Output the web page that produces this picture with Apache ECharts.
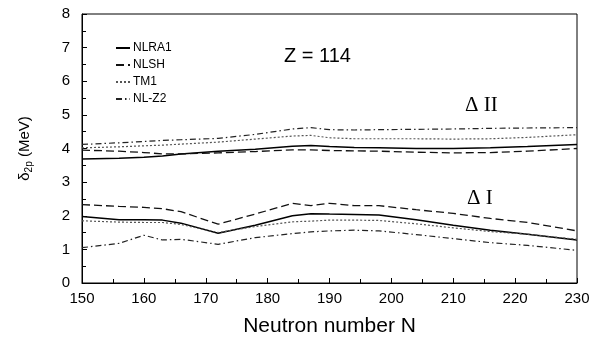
<!DOCTYPE html>
<html>
<head>
<meta charset="utf-8">
<script src="https://cdn.jsdelivr.net/npm/echarts@6/dist/echarts.min.js"></script>
<style>
  html, body { margin: 0; padding: 0; background: #fff; }
  #main { width: 615px; height: 347px; }
</style>
</head>
<body>
<div id="main"></div>
<script>
// neutron numbers where curves were read
const nValues = [150, 156, 160, 163, 166, 172, 178, 184, 187, 190, 194, 198, 204, 210, 216, 222, 230];

// Delta II (upper group)
const nlra1Upper = [3.69, 3.71, 3.74, 3.78, 3.84, 3.92, 3.98, 4.07, 4.09, 4.06, 4.03, 4.02, 4.00, 4.00, 4.02, 4.06, 4.12];
const nlshUpper  = [3.95, 3.92, 3.88, 3.84, 3.84, 3.87, 3.91, 3.96, 3.96, 3.94, 3.93, 3.92, 3.89, 3.87, 3.88, 3.92, 4.00];
const tm1Upper   = [4.02, 4.05, 4.08, 4.10, 4.13, 4.19, 4.28, 4.37, 4.39, 4.32, 4.29, 4.29, 4.29, 4.28, 4.29, 4.33, 4.41];
const nlz2Upper  = [4.12, 4.17, 4.21, 4.24, 4.26, 4.30, 4.42, 4.58, 4.62, 4.56, 4.55, 4.56, 4.57, 4.58, 4.60, 4.61, 4.62];

// Delta I (lower group)
const nlra1Lower = [1.98, 1.88, 1.88, 1.87, 1.78, 1.48, 1.72, 2.00, 2.06, 2.05, 2.04, 2.02, 1.88, 1.72, 1.57, 1.45, 1.28];
const nlshLower  = [2.33, 2.28, 2.25, 2.21, 2.12, 1.75, 2.05, 2.37, 2.30, 2.37, 2.30, 2.30, 2.18, 2.07, 1.92, 1.80, 1.55];
const tm1Lower   = [1.85, 1.81, 1.80, 1.80, 1.74, 1.50, 1.68, 1.82, 1.84, 1.87, 1.87, 1.86, 1.76, 1.64, 1.53, 1.45, 1.30];
const nlz2Lower  = [1.05, 1.18, 1.42, 1.28, 1.30, 1.15, 1.35, 1.47, 1.52, 1.55, 1.57, 1.55, 1.44, 1.32, 1.20, 1.12, 0.97];

const seriesNames = ['NLRA1', 'NLSH', 'TM1', 'NL-Z2'];
const xTicks = [150, 160, 170, 180, 190, 200, 210, 220, 230];
const yTicks = [0, 1, 2, 3, 4, 5, 6, 7, 8];

const styles = {
  'NLRA1': { color: '#000', width: 1.5, type: 'solid' },
  'NLSH':  { color: '#111', width: 1.3, type: [8, 4] },
  'TM1':   { color: '#555', width: 1.2, type: [2, 2] },
  'NL-Z2': { color: '#222', width: 1.2, type: [6, 3, 1.5, 3] }
};

function pairs(ys) {
  return nValues.map((n, i) => [n, ys[i]]);
}

function makeSeries(name, ys) {
  return {
    name: name,
    type: 'line',
    data: pairs(ys),
    symbol: 'none',
    color: styles[name].color,
    lineStyle: styles[name],
    silent: true,
    animation: false
  };
}

const myChart = echarts.init(document.getElementById('main'));

const font = 'Liberation Sans, Arial, sans-serif';

const option = {
  backgroundColor: '#fff',
  grid: {
    left: 82, right: 38, top: 14, bottom: 64,
    show: true, borderColor: '#000', borderWidth: 1
  },
  legend: {
    data: seriesNames,
    orient: 'vertical',
    left: 110,
    top: 37,
    itemWidth: 14,
    itemHeight: 8,
    itemGap: 5,
    itemStyle: { opacity: 0 },
    textStyle: { fontFamily: font, fontSize: 12, color: '#000', padding: [0, 0, 0, -2] },
    selectedMode: false
  },
  xAxis: {
    type: 'value',
    min: xTicks[0], max: xTicks[xTicks.length - 1], interval: 10,
    axisLine: { lineStyle: { color: '#000' } },
    axisTick: { inside: true, length: 5, lineStyle: { color: '#000' } },
    minorTick: { show: true, splitNumber: 2, length: 4, lineStyle: { color: '#000' } },
    splitLine: { show: false },
    axisLabel: { color: '#000', fontFamily: font, fontSize: 15, margin: 8 },
    name: 'Neutron number N',
    nameLocation: 'middle',
    nameGap: 33,
    nameTextStyle: { color: '#000', fontFamily: font, fontSize: 21 }
  },
  yAxis: {
    type: 'value',
    min: yTicks[0], max: yTicks[yTicks.length - 1], interval: 1,
    axisLine: { show: true, lineStyle: { color: '#000' } },
    axisTick: { show: true, inside: true, length: 5, lineStyle: { color: '#000' } },
    minorTick: { show: true, splitNumber: 2, length: 4, lineStyle: { color: '#000' } },
    splitLine: { show: false },
    axisLabel: { color: '#000', fontFamily: font, fontSize: 15, margin: 12 },
    name: '{a|δ}{s|2p}{a| (MeV)}',
    nameLocation: 'middle',
    nameRotate: 90,
    nameGap: 48,
    nameTextStyle: {
      color: '#000',
      rich: {
        a: { fontFamily: font, fontSize: 15, color: '#000' },
        s: { fontFamily: font, fontSize: 10, color: '#000', verticalAlign: 'bottom', padding: [8, 0, 0, 0] }
      }
    }
  },
  graphic: [
    { type: 'text', left: 284, top: 46, style: { text: 'Z = 114', font: '20px ' + font, fill: '#000' } },
    { type: 'text', left: 465, top: 95, style: { text: 'Δ II', font: '21px Liberation Serif, Times New Roman, serif', fill: '#000' } },
    { type: 'text', left: 467, top: 188, style: { text: 'Δ I', font: '21px Liberation Serif, Times New Roman, serif', fill: '#000' } }
  ],
  series: [
    makeSeries('NLRA1', nlra1Upper),
    makeSeries('NLSH', nlshUpper),
    makeSeries('TM1', tm1Upper),
    makeSeries('NL-Z2', nlz2Upper),
    makeSeries('NLRA1', nlra1Lower),
    makeSeries('NLSH', nlshLower),
    makeSeries('TM1', tm1Lower),
    makeSeries('NL-Z2', nlz2Lower)
  ]
};

myChart.setOption(option);
</script>
</body>
</html>
